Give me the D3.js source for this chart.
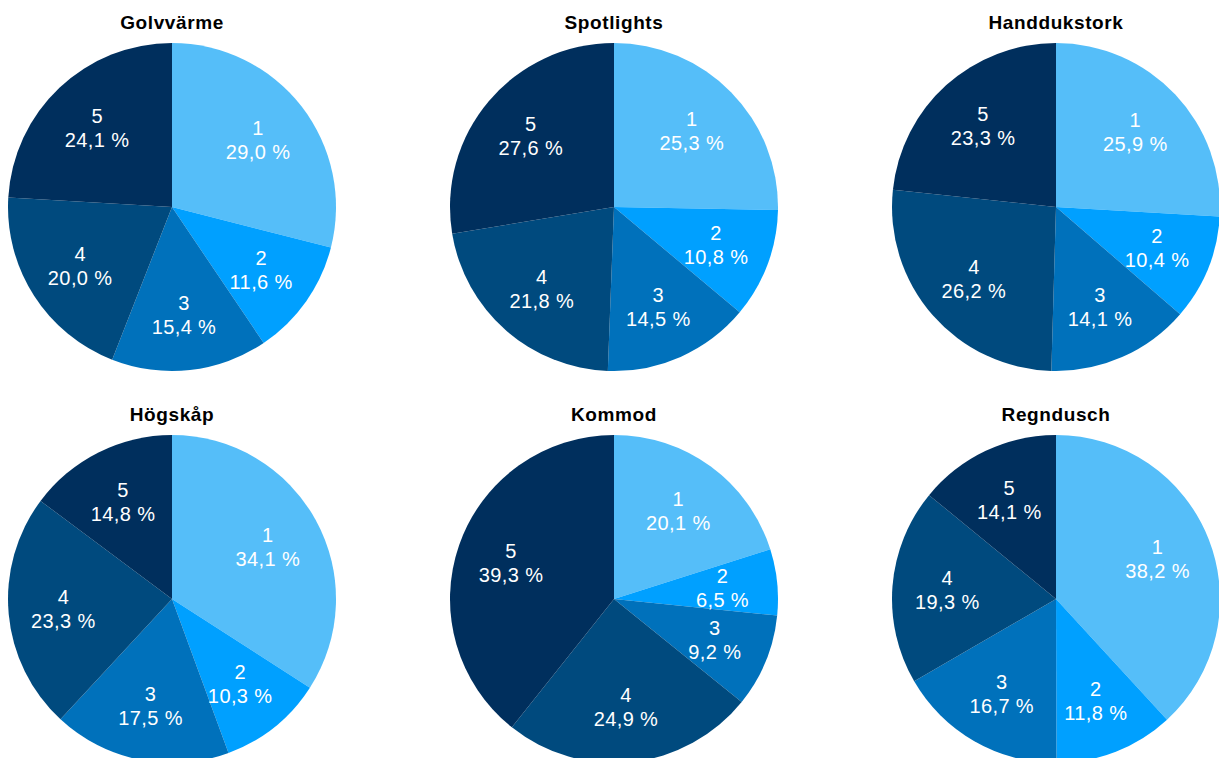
<!DOCTYPE html>
<html>
<head>
<meta charset="utf-8">
<script src="https://cdn.jsdelivr.net/npm/d3@7"></script>
<style>
  html, body { margin: 0; padding: 0; background: #fff; }
  svg { display: block; }
  .title { font-family: "Liberation Sans", Arial, sans-serif; font-weight: bold; font-size: 19px; letter-spacing: 0.6px; fill: #000; }
  .label { font-family: "Liberation Sans", Arial, sans-serif; font-size: 20px; letter-spacing: 0.4px; fill: #fff; }
</style>
</head>
<body>
<svg id="chart" width="1219" height="758"></svg>
<script>
// slice categories (clockwise from 12 o'clock)
const categories = ["1", "2", "3", "4", "5"];
const titles = ["Golvvärme", "Spotlights", "Handdukstork", "Högskåp", "Kommod", "Regndusch"];

// percent shares per chart, same order as categories
const golvvarme    = [29.0, 11.6, 15.4, 20.0, 24.1];
const spotlights   = [25.3, 10.8, 14.5, 21.8, 27.6];
const handdukstork = [25.9, 10.4, 14.1, 26.2, 23.3];
const hogskap      = [34.1, 10.3, 17.5, 23.3, 14.8];
const kommod       = [20.1, 6.5, 9.2, 24.9, 39.3];
const regndusch    = [38.2, 11.8, 16.7, 19.3, 14.1];

const series = [golvvarme, spotlights, handdukstork, hogskap, kommod, regndusch];

const colors = d3.scaleOrdinal()
  .domain(categories)
  .range(["#55bef9", "#00a0ff", "#0071bb", "#004a7e", "#002f5d"]);

const radius = 164;
const labelRadius = radius * 0.665;

const col = d3.scalePoint().domain([0, 1, 2]).range([172, 1056]);
const row = d3.scalePoint().domain([0, 1]).range([207, 599]);

const sv = d3.formatLocale({decimal: ",", thousands: " ", grouping: [3], currency: ["", " kr"]});
const fmt = v => sv.format(".1f")(v) + " %";

const pie = d3.pie().sort(null).value(d => d.value);
const arc = d3.arc().innerRadius(0).outerRadius(radius);
const labelArc = d3.arc().innerRadius(labelRadius).outerRadius(labelRadius);

const svg = d3.select("#chart");

series.forEach((values, i) => {
  const cx = col(i % 3), cy = row(Math.floor(i / 3));
  const g = svg.append("g").attr("transform", `translate(${cx},${cy})`);
  const data = values.map((v, k) => ({cat: categories[k], value: v}));
  const arcs = pie(data);

  g.selectAll("path.slice")
    .data(arcs)
    .enter()
    .append("path")
    .attr("class", "slice")
    .attr("d", arc)
    .attr("fill", d => colors(d.data.cat));

  const labels = g.selectAll("text.label")
    .data(arcs)
    .enter()
    .append("text")
    .attr("class", "label")
    .attr("text-anchor", "middle")
    .attr("transform", d => `translate(${labelArc.centroid(d)})`);

  labels.append("tspan")
    .attr("x", 0)
    .attr("y", -12)
    .attr("dominant-baseline", "central")
    .text(d => d.data.cat);

  labels.append("tspan")
    .attr("x", 0)
    .attr("y", 12)
    .attr("dominant-baseline", "central")
    .text(d => fmt(d.data.value));

  // chart title above each pie
  g.append("text")
    .attr("class", "title")
    .attr("text-anchor", "middle")
    .attr("y", -178)
    .text(titles[i]);
});
</script>
</body>
</html>
